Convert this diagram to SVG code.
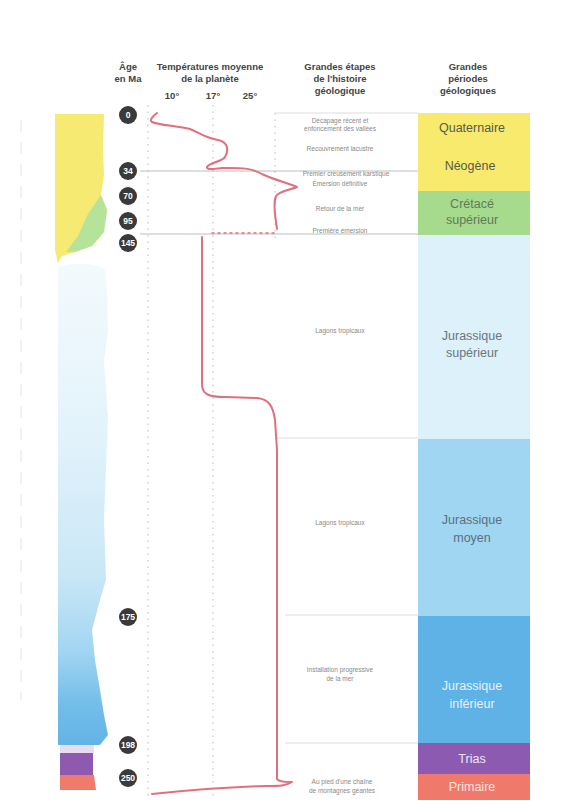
<svg xmlns="http://www.w3.org/2000/svg" width="566" height="801" viewBox="0 0 566 801">
<defs>
<linearGradient id="blueg" x1="0" y1="262" x2="0" y2="745" gradientUnits="userSpaceOnUse">
<stop offset="0" stop-color="#f3fafd"/>
<stop offset="0.35" stop-color="#e3f3fb"/>
<stop offset="0.65" stop-color="#c9e7f7"/>
<stop offset="0.8" stop-color="#a4d6f2"/>
<stop offset="0.92" stop-color="#72bde9"/>
<stop offset="1" stop-color="#62b4e6"/>
</linearGradient>
</defs>
<style>
.hd{font-family:"Liberation Sans Narrow","Liberation Sans",Arial,sans-serif;font-weight:bold;font-size:9.5px;fill:#444;text-anchor:middle}
.et{font-family:"Liberation Sans",Arial,sans-serif;font-size:6.5px;fill:#888;text-anchor:middle}
.pr{font-family:"Liberation Sans",Arial,sans-serif;font-size:12.5px;text-anchor:middle}
.age circle{fill:#3a3a3a}
.age text{font-family:"Liberation Sans",Arial,sans-serif;font-weight:bold;font-size:8.5px;fill:#fff;text-anchor:middle}
.grid{stroke:#bbb;stroke-width:1;stroke-dasharray:1.5 5;fill:none}
.sep{stroke:#d4d4d4;stroke-width:0.8;fill:none}
</style>
<rect width="566" height="801" fill="#fff"/>
<line x1="21" y1="120" x2="21" y2="700" stroke="#e6e6e6" stroke-width="1" stroke-dasharray="12 10"/>
<g id="strip">
<path d="M55,114 L104,114 L103,150 L104,175 L101,195 L107,210 L104,232 L92,246 L75,252 L62,256 L58,263 L55,250 Z" fill="#f6ea72"/>
<path d="M101,195 L107,210 L104,232 L92,246 L75,252 L66,252 L78,236 L88,214 Z" fill="#b5e39a"/>
<path d="M58,268 C70,262 95,262 106,270 L108,330 L104,360 L108,420 L106,470 L104,520 L106,580 L100,600 L96,615 L92,630 L95,660 L100,690 L104,715 L108,735 L100,745 L58,745 Z" fill="url(#blueg)"/>
<rect x="60" y="745" width="34" height="8" fill="#e7dcf0"/>
<rect x="60" y="753" width="33" height="22" fill="#8d5aaf"/>
<path d="M60,775 L94,775 L96,790 L60,790 Z" fill="#ef7b6d"/>
</g>
<g id="headers">
<text class="hd" x="128" y="70">Âge</text>
<text class="hd" x="128" y="82">en Ma</text>
<text class="hd" x="210" y="70">Températures moyenne</text>
<text class="hd" x="210" y="82">de la planète</text>
<text class="hd" x="172" y="99">10°</text>
<text class="hd" x="213" y="99">17°</text>
<text class="hd" x="250" y="99">25°</text>
<text class="hd" x="340" y="70">Grandes étapes</text>
<text class="hd" x="340" y="82">de l'histoire</text>
<text class="hd" x="340" y="94">géologique</text>
<text class="hd" x="468" y="70">Grandes</text>
<text class="hd" x="468" y="82">périodes</text>
<text class="hd" x="468" y="94">géologiques</text>
</g>
<g id="periods">
<rect x="418" y="113" width="112" height="78" fill="#f7ea6c"/>
<rect x="418" y="191" width="112" height="44" fill="#a6db8e"/>
<rect x="418" y="235" width="112" height="204" fill="#dcf1fa"/>
<rect x="418" y="439" width="112" height="177" fill="#a1d6f2"/>
<rect x="418" y="616" width="112" height="127" fill="#5fb2e6"/>
<rect x="418" y="743" width="112" height="31" fill="#8c5bb1"/>
<rect x="418" y="774" width="112" height="26" fill="#ef7a6c"/>
<text class="pr" x="472" y="132" fill="#5a5a4a">Quaternaire</text>
<text class="pr" x="470" y="170" fill="#5a5a4a">Néogène</text>
<text class="pr" x="472" y="208" fill="#5f7a58">Crétacé</text>
<text class="pr" x="472" y="224" fill="#5f7a58">supérieur</text>
<text class="pr" x="472" y="340" fill="#6a7680">Jurassique</text>
<text class="pr" x="472" y="357" fill="#6a7680">supérieur</text>
<text class="pr" x="472" y="524" fill="#5a7080">Jurassique</text>
<text class="pr" x="472" y="542" fill="#5a7080">moyen</text>
<text class="pr" x="472" y="690" fill="#e6f1f9">Jurassique</text>
<text class="pr" x="472" y="708" fill="#e6f1f9">inférieur</text>
<text class="pr" x="472" y="763" fill="#eee6f4">Trias</text>
<text class="pr" x="472" y="791" fill="#fbe4de">Primaire</text>
</g>
<g id="grid">
<line class="grid" x1="148" y1="105" x2="148" y2="800"/>
<line class="grid" x1="213" y1="105" x2="213" y2="800"/>
<line class="grid" x1="275" y1="113" x2="275" y2="240"/>
<line class="sep" x1="275" y1="113" x2="418" y2="113"/>
<line x1="140" y1="171" x2="418" y2="171" stroke="#a9b0b0" stroke-width="0.8"/>
<line x1="140" y1="234" x2="418" y2="234" stroke="#a9b0b0" stroke-width="0.8"/>
<line class="sep" x1="275" y1="438" x2="418" y2="438"/>
<line class="sep" x1="285" y1="615" x2="418" y2="615"/>
<line class="sep" x1="285" y1="743" x2="418" y2="743"/>
</g>
<g id="stages">
<text class="et" x="340" y="123">Décapage récent et</text>
<text class="et" x="340" y="131">enfoncement des vallées</text>
<text class="et" x="340" y="151">Recouvrement lacustre</text>
<text class="et" x="346" y="176">Premier creusement karstique</text>
<text class="et" x="340" y="186">Émersion définitive</text>
<text class="et" x="340" y="211">Retour de la mer</text>
<text class="et" x="340" y="233">Première émersion</text>
<text class="et" x="340" y="333">Lagons tropicaux</text>
<text class="et" x="340" y="525">Lagons tropicaux</text>
<text class="et" x="340" y="672">Installation progressive</text>
<text class="et" x="340" y="681">de la mer</text>
<text class="et" x="342" y="784">Au pied d'une chaîne</text>
<text class="et" x="342" y="793">de montagnes géantes</text>
</g>
<g id="connectors" fill="none" stroke="#e0707e" stroke-width="2" stroke-linecap="round" stroke-linejoin="round">
<path d="M157,113 C153,116 149,120 152,122 C158,125 178,126 190,129 C200,133 205,138 218,140 C228,142 229,150 225,157 C222,162 210,162 207,167 C206,170 214,169 222,168 C238,168 250,167 262,174 C272,179 285,182 297,187 C290,190 280,191 276,196 C273,203 275,215 276,222 L277,229"/>
<path d="M212,233 L276,233" stroke-dasharray="2 4" stroke-width="1.6"/>
<path d="M202,237 L202,384 C202,394 208,397 225,397 L257,398 C268,399 273,405 275,420 L277,450 L277,779 C279,782 285,782 292,782 C286,786 280,786 265,786 C230,787 190,790 152,794"/>
</g>
<g id="ages" class="age">
<g id="age0"><circle cx="128" cy="115" r="9"/><text x="128" y="118">0</text></g>
<g id="age34"><circle cx="128" cy="171" r="9"/><text x="128" y="174">34</text></g>
<g id="age70"><circle cx="128" cy="196" r="9"/><text x="128" y="199">70</text></g>
<g id="age95"><circle cx="128" cy="221" r="9"/><text x="128" y="224">95</text></g>
<g id="age145"><circle cx="128" cy="243" r="9"/><text x="128" y="246">145</text></g>
<g id="age175"><circle cx="128" cy="617" r="9"/><text x="128" y="620">175</text></g>
<g id="age198"><circle cx="128" cy="745" r="9"/><text x="128" y="748">198</text></g>
<g id="age250"><circle cx="128" cy="778" r="9"/><text x="128" y="781">250</text></g>
</g>
</svg>
